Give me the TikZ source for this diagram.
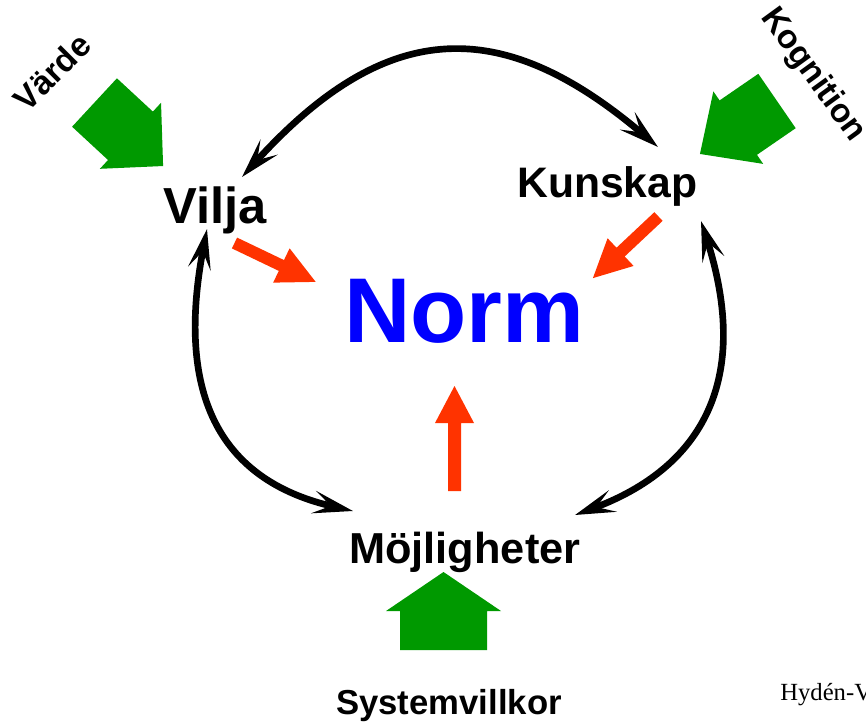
\documentclass[tikz,border=0pt]{standalone}
\usepackage{fontspec}
\setmainfont{Liberation Sans}
\newfontfamily\hyserif{Liberation Serif}
\usetikzlibrary{arrows.meta}
\definecolor{greenarr}{RGB}{0,153,0}
\definecolor{redarr}{RGB}{255,51,0}
\definecolor{normblue}{RGB}{0,0,255}
\begin{document}
\begin{tikzpicture}[x=0.75pt,y=-0.75pt,
  lbl/.style={inner sep=0pt, anchor=base west},
  rot/.style={inner sep=0pt, font=\bfseries\fontsize{25}{27}\selectfont},
  cyc/.style={line width=5pt,
    {Stealth[length=30pt,width=17pt,inset=13pt]}-{Stealth[length=30pt,width=17pt,inset=13pt]}},
  redfill/.style={fill=redarr},
  greenfill/.style={fill=greenarr}]
\useasboundingbox (0,0) rectangle (866,726);
% labels
\node[lbl, font=\bfseries\fontsize{38}{40}\selectfont] (vilja) at (163,223) {Vilja};
\node[lbl, font=\bfseries\fontsize{32}{34}\selectfont] (kunskap) at (517,197) {Kunskap};
\node[lbl, font=\bfseries\fontsize{69}{72}\selectfont, text=normblue] (norm) at (344,342) {Norm};
\node[lbl, font=\bfseries\fontsize{32.5}{34}\selectfont] (moj) at (349,563) {Möjligheter};
\node[lbl, font=\bfseries\fontsize{26}{28}\selectfont] (system) at (336,714) {Systemvillkor};
\node[lbl, font=\hyserif\fontsize{18.5}{20}\selectfont] (hyden) at (780,700) {Hydén-V};
\node[rot, rotate=45] (varde) at (52,72) {Värde};
\node[rot, rotate=-54] (kognition) at (813,75) {Kognition};
% cycle arrows
\draw[cyc] ([shift={(79,-46)}]vilja.base west) .. controls (388,15) and (504,16) .. ([shift={(141,-50)}]kunskap.base west);
\draw[cyc] ([shift={(44,6)}]vilja.base west) .. controls (176,390) and (216,480) .. ([shift={(4,-52)}]moj.base west);
\draw[cyc] ([shift={(184,24)}]kunskap.base west) .. controls (752,380) and (702,468) .. ([shift={(226,-48)}]moj.base west);
% red arrows
\fill[redfill, shift={(234.5,243)}, rotate=-25.6] (0,-6) -- (52,-6) -- (52,-19) -- (90,0) -- (52,19) -- (52,6) -- (0,6) -- cycle;
\fill[redfill, shift={(658.5,216.5)}, rotate=-136.8] (0,-6) -- (52,-6) -- (52,-19) -- (90,0) -- (52,19) -- (52,6) -- (0,6) -- cycle;
\fill[redfill, shift={(454.5,491)}, rotate=90] (0,-6.5) -- (68,-6.5) -- (68,-19.5) -- (105,0) -- (68,19.5) -- (68,6.5) -- (0,6.5) -- cycle;
% green arrows
\fill[greenfill, shift={(94.5,102.5)}, rotate=-42.8] (0,-33) -- (49,-33) -- (49,-45) -- (93.5,0) -- (49,45) -- (49,33) -- (0,33) -- cycle;
\fill[greenfill, shift={(777,101)}, rotate=-145.5] (0,-33) -- (47,-33) -- (47,-44) -- (93.5,0) -- (47,44) -- (47,33) -- (0,33) -- cycle;
\fill[greenfill, shift={(443.5,650)}, rotate=90] (0,-43.5) -- (39,-43.5) -- (39,-57.5) -- (78,0) -- (39,57.5) -- (39,43.5) -- (0,43.5) -- cycle;
\end{tikzpicture}
\end{document}
